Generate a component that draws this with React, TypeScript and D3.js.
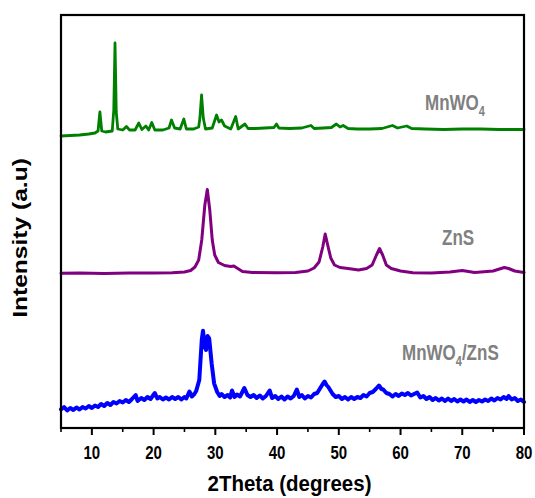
import React from "react";
import * as d3 from "d3";

// 2Theta (deg) and intensity (a.u., stacked offsets)
const mnwo4Theta = [5, 6.5, 8, 9.5, 10.5, 11.0, 11.3, 11.6, 12.2, 13.3, 13.55, 13.75, 13.95, 14.2, 15.0, 15.6, 16.1, 17.0, 17.6, 18.1, 18.75, 19.2, 19.7, 20.2, 21.5, 22.5, 22.9, 23.4, 24.3, 24.9, 25.3, 26.5, 27.3, 27.5, 27.77, 28.05, 28.4, 29.5, 30.2, 30.6, 31.0, 31.5, 32.5, 33.3, 33.7, 34.8, 35.3, 36.5, 38, 39.5, 39.9, 40.3, 42, 44, 45.5, 46, 47.5, 48.8, 49.6, 50.2, 50.7, 51.5, 53, 55, 57, 58.7, 59.5, 61, 61.8, 64, 67, 70, 73, 76, 80];
const mnwo4Int = [292, 292.5, 293, 294, 295, 297, 316, 297, 296, 297, 318, 385, 316, 299, 298, 301.5, 298, 298, 305, 298.5, 302, 298, 305.5, 298, 298, 300, 308, 300, 299, 309, 299, 299, 301, 310, 333, 310, 299, 300, 313, 306, 308, 302, 299, 311.5, 299, 304, 299.5, 299.5, 300, 300.5, 304, 300, 299.5, 300, 302.5, 299.5, 300, 300.5, 304, 301, 302.5, 299.5, 299, 299, 299.5, 302.5, 300, 302, 299.5, 299, 298.5, 299, 299, 298.5, 298.5];

const znsTheta = [5, 8, 12, 16, 20, 23, 25, 26, 26.7, 27.3, 27.8, 28.3, 28.7, 29.1, 29.5, 29.9, 30.5, 31.5, 32.5, 33.0, 33.5, 34.4, 36, 40, 43, 45, 46, 46.8, 47.4, 47.8, 48.2, 48.7, 49.3, 50.2, 51.5, 53.2, 54.5, 55.4, 56.1, 56.6, 57.1, 57.7, 58.5, 60, 62, 65, 68, 70, 72, 75, 76.8, 77.5, 78.5, 80];
const znsInt = [154.7, 155, 154.5, 155, 155, 155.3, 156, 157.5, 161, 168, 188, 223, 238.5, 218, 188, 173, 165.5, 162.5, 161.5, 162, 160, 156.5, 155.5, 155.3, 155.5, 157, 160, 166, 181, 194, 183, 170, 163, 160.5, 159.5, 158, 159.5, 163, 173, 179.5, 173, 163, 159.5, 157, 155.3, 155, 156, 157.5, 155.5, 157, 160.5, 159.5, 157, 155.5];

const compTheta = [5, 5.5, 6, 6.5, 7, 7.5, 8, 8.5, 9, 9.5, 10, 10.5, 11, 11.5, 12, 12.5, 13, 13.5, 14, 14.5, 15, 15.5, 16, 16.5, 17.1, 17.4, 18, 18.5, 19, 19.5, 20.2, 20.6, 21, 21.5, 22, 22.5, 23, 23.5, 24, 24.5, 25, 25.3, 25.8, 26.2, 26.6, 26.9, 27.4, 27.8, 28.0, 28.3, 28.5, 28.75, 29.0, 29.4, 29.8, 30.3, 30.7, 31, 31.5, 32, 32.4, 32.7, 33.1, 33.5, 34.0, 34.7, 35.2, 35.7, 36.2, 36.7, 37.2, 37.7, 38.2, 38.8, 39.2, 39.7, 40.2, 40.7, 41.2, 41.7, 42.2, 42.7, 43.2, 43.6, 44, 44.5, 45, 45.5, 46, 46.5, 47.0, 47.4, 47.7, 48, 48.3, 48.7, 49.0, 49.5, 50, 50.5, 51, 51.5, 52, 52.5, 53, 53.5, 54, 54.5, 55, 55.5, 56, 56.5, 56.9, 57.2, 57.7, 58.2, 58.7, 59.2, 59.7, 60.2, 60.7, 61.2, 61.7, 62.2, 62.7, 63.2, 63.7, 64.2, 64.7, 65.2, 65.7, 66.2, 66.7, 67.2, 67.7, 68.2, 68.7, 69.2, 69.7, 70.2, 70.7, 71.2, 71.7, 72.2, 72.7, 73.2, 73.7, 74.2, 74.7, 75.2, 75.7, 76.2, 76.7, 77.2, 77.5, 78, 78.5, 79, 79.5, 80];
const compInt = [18.7, 21, 17.5, 20, 18, 20.5, 18.5, 21, 19.5, 22, 20, 22.5, 21, 24, 22, 25, 23, 26, 24.5, 27, 25.5, 28, 26, 29, 33, 27, 30, 28, 31, 29, 35, 29.5, 31, 28.5, 30.5, 28.5, 31, 29, 31, 28.5, 31, 29.5, 36.5, 31.5, 34, 37, 48, 88, 97.3, 81.3, 78, 92, 89.7, 64.7, 44.7, 36, 32, 34, 31, 33, 30.5, 37.5, 31, 33.5, 31.5, 40, 33, 31, 33, 30, 32.5, 29.5, 32, 37.5, 30, 32, 29, 31.5, 28.5, 31.5, 29.5, 32, 38.5, 31, 33, 29.5, 32, 30.5, 34, 35, 40, 44, 46.5, 43, 41, 37, 34, 31, 32, 29, 31, 28.5, 31, 29, 31, 30, 33, 31.5, 35, 36, 39, 42.5, 39, 38.5, 35, 34, 31.5, 34, 32, 34.5, 33, 35, 32.5, 34, 35.5, 30.5, 32, 29, 31, 28, 30, 27.5, 29.5, 27, 29.5, 27, 29, 26.5, 28.5, 26.5, 28.5, 26, 28, 26, 28, 26.5, 28.5, 27, 29.5, 27.5, 30, 28.5, 31, 29, 32, 28.5, 30, 27, 28.5, 26];

const majorTicks = [10, 20, 30, 40, 50, 60, 70, 80];
const minorTicks = [5, 15, 25, 35, 45, 55, 65, 75];

const W = 535;
const H = 498;
const left = 61;
const right = 524;
const top = 15;
const bottom = 428;
const font = "'Liberation Sans', Arial, Helvetica, sans-serif";

export default function App() {
  const x = d3.scaleLinear().domain([5, 80]).range([left, right]);
  const y = d3.scaleLinear().domain([0, 413]).range([bottom, top]);
  const line = d3
    .line<[number, number]>()
    .x((d) => x(d[0]))
    .y((d) => y(d[1]))
    .curve(d3.curveLinear);

  const zip = (a: number[], b: number[]) => a.map((v, i) => [v, b[i]] as [number, number]);

  const series = [
    { pts: zip(mnwo4Theta, mnwo4Int), color: "#008000", w: 2.8 },
    { pts: zip(znsTheta, znsInt), color: "#800080", w: 3 },
    { pts: zip(compTheta, compInt), color: "#0000FF", w: 4 },
  ];

  return (
    <svg
      width={W}
      height={H}
      style={{ position: "absolute", left: 0, top: 0, background: "#fff" }}
      fontFamily={font}
    >
      <rect width={W} height={H} fill="#fff" />
      {series.map((s, i) => (
        <path
          key={i}
          d={line(s.pts) || ""}
          fill="none"
          stroke={s.color}
          strokeWidth={s.w}
          strokeLinejoin="round"
          strokeLinecap="round"
        />
      ))}
      <rect
        x={left}
        y={top}
        width={right - left}
        height={bottom - top}
        fill="none"
        stroke="#000"
        strokeWidth={2.2}
      />
      {majorTicks.map((t) => (
        <line key={"M" + t} x1={x(t)} x2={x(t)} y1={bottom} y2={bottom + 7} stroke="#000" strokeWidth={2} />
      ))}
      {minorTicks.map((t) => (
        <line key={"m" + t} x1={x(t)} x2={x(t)} y1={bottom} y2={bottom + 4} stroke="#000" strokeWidth={1.6} />
      ))}
      {majorTicks.map((t) => (
        <text
          key={"L" + t}
          transform={`translate(${x(t)},458.5) scale(1,1.25)`}
          textAnchor="middle"
          fontSize={15}
          fontWeight="bold"
          fill="#000"
        >
          {t}
        </text>
      ))}
      <text
        transform={`translate(${(left + right) / 2 - 3},491) scale(1,1.12)`}
        textAnchor="middle"
        fontSize={20.5}
        fontWeight="bold"
        fill="#000"
      >
        2Theta (degrees)
      </text>
      <text
        transform={`translate(27, 238) scale(1,1.17) rotate(-90)`}
        textAnchor="middle"
        fontSize={21}
        fontWeight="bold"
        fill="#000"
      >
        Intensity (a.u)
      </text>
      <text transform="translate(425,110) scale(1,1.3)" fontSize={17} fontWeight="bold" fill="#808080">
        MnWO<tspan fontSize={11} dy={4.5}>4</tspan>
      </text>
      <text transform="translate(442,245) scale(1,1.3)" fontSize={17} fontWeight="bold" fill="#808080">
        ZnS
      </text>
      <text transform="translate(402,360) scale(1,1.3)" fontSize={17} fontWeight="bold" fill="#808080">
        MnWO<tspan fontSize={11} dy={4.5}>4</tspan>
        <tspan dy={-4.5}>/ZnS</tspan>
      </text>
    </svg>
  );
}
